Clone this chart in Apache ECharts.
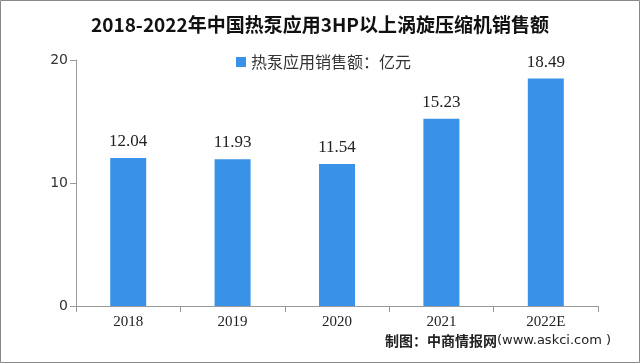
<!DOCTYPE html>
<html><head><meta charset="utf-8">
<script src="https://cdn.jsdelivr.net/npm/echarts@6/dist/echarts.min.js"></script>
<style>html,body{margin:0;padding:0;background:#fff}#c{width:640px;height:363px}</style>
</head><body><div id="c"></div>
<script>
const categories = ['2018','2019','2020','2021','2022E'];
const values = [12.04, 11.93, 11.54, 15.23, 18.49];
const yTicks = [0, 10, 20];
const titleText = '2018-2022年中国热泵应用3HP以上涡旋压缩机销售额';
const seriesName = '热泵应用销售额：亿元';
const footerA = '制图：中商情报网';
const footerB = '(www.askci.com )';

const chart = echarts.init(document.getElementById('c'), null, {renderer:'canvas'});
chart.setOption({
  backgroundColor:'#fff',
  animation:false,
  title:{text:titleText,left:'center',top:10,textStyle:{fontFamily:'Noto Sans CJK SC',fontSize:19,fontWeight:'bold',color:'#111'}},
  legend:{data:[seriesName],left:231,top:49,itemWidth:10,itemHeight:10,itemGap:6,icon:'rect',textStyle:{fontFamily:'Noto Sans CJK SC',fontSize:16,color:'#333'}},
  grid:{left:76,right:42,top:60,bottom:57},
  xAxis:{type:'category',data:categories,
    axisLine:{lineStyle:{color:'#999'}},
    axisTick:{show:true,length:6,lineStyle:{color:'#999'}},
    axisLabel:{fontFamily:'Liberation Serif',fontSize:15,color:'#222',margin:9}},
  yAxis:{type:'value',min:yTicks[0],max:yTicks[yTicks.length-1],interval:10,
    axisLine:{show:true,lineStyle:{color:'#999'}},
    axisTick:{show:true,length:6,lineStyle:{color:'#999'}},
    splitLine:{show:false},
    axisLabel:{fontFamily:'DejaVu Sans',fontSize:14,color:'#333',margin:8}},
  series:[{name:seriesName,type:'bar',data:values,barWidth:36,
    itemStyle:{color:'#3a92e8'},
    label:{show:true,position:'top',distance:8,fontFamily:'Liberation Serif',fontSize:17,color:'#222',formatter:p=>p.value.toFixed(2)}}],
  graphic:[
    {type:'rect',shape:{x:0.5,y:0.5,width:639,height:362},style:{fill:'none',stroke:'#888',lineWidth:1}},
    {type:'text',left:385,top:334,style:{rich:{a:{fontFamily:'Noto Sans CJK SC',fontSize:14,fontWeight:'bold',fill:'#222'},b:{fontFamily:'DejaVu Sans',fontSize:13,fill:'#222'}},text:'{a|'+footerA+'}{b|'+footerB+'}'}}
  ]
});
</script></body></html>
